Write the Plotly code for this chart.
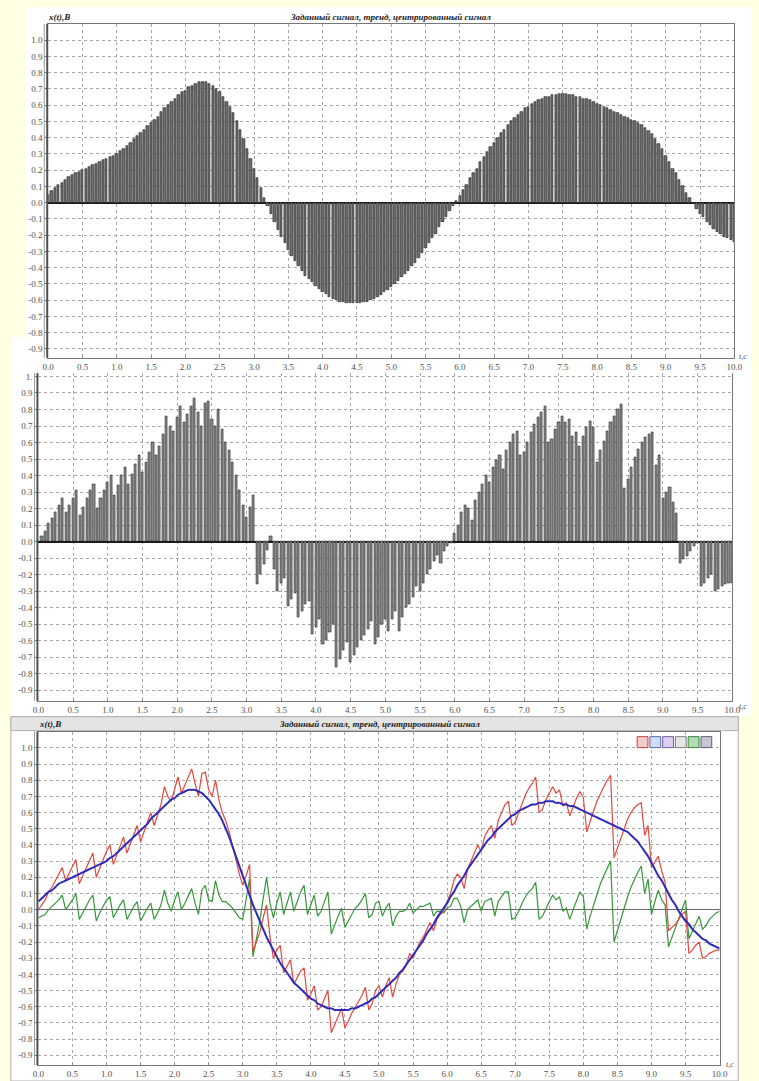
import plotly.graph_objects as go

W, H = 759, 1081

# ---------------- data ----------------
t = [round(i * 0.05, 2) for i in range(201)]

trend = [
    0.05, 0.07, 0.09, 0.11, 0.12, 0.14, 0.16, 0.17, 0.18, 0.19,
    0.20, 0.21, 0.22, 0.23, 0.24, 0.25, 0.26, 0.27, 0.28, 0.29,
    0.30, 0.32, 0.33, 0.35, 0.37, 0.39, 0.41, 0.43, 0.45, 0.47,
    0.49, 0.51, 0.53, 0.56, 0.58, 0.60, 0.62, 0.64, 0.66, 0.68,
    0.69, 0.71, 0.72, 0.73, 0.74, 0.74, 0.74, 0.73, 0.72, 0.70,
    0.68, 0.65, 0.62, 0.59, 0.55, 0.50, 0.45, 0.39, 0.33, 0.27,
    0.21, 0.15, 0.09, 0.03, -0.02, -0.07, -0.12, -0.17, -0.21, -0.25,
    -0.29, -0.33, -0.36, -0.39, -0.42, -0.45, -0.47, -0.49, -0.51, -0.53,
    -0.55, -0.56, -0.58, -0.59, -0.60, -0.61, -0.61, -0.62, -0.62, -0.62,
    -0.62, -0.62, -0.61, -0.61, -0.60, -0.59, -0.58, -0.57, -0.55, -0.54,
    -0.52, -0.50, -0.48, -0.46, -0.44, -0.42, -0.39, -0.37, -0.34, -0.31,
    -0.28, -0.25, -0.22, -0.19, -0.15, -0.12, -0.09, -0.05, -0.02, 0.01,
    0.04, 0.08, 0.11, 0.15, 0.18, 0.21, 0.25, 0.28, 0.31, 0.34,
    0.37, 0.40, 0.43, 0.45, 0.48, 0.50, 0.52, 0.54, 0.56, 0.58,
    0.59, 0.61, 0.62, 0.63, 0.64, 0.65, 0.65, 0.66, 0.66, 0.67,
    0.67, 0.67, 0.66, 0.66, 0.65, 0.65, 0.64, 0.64, 0.63, 0.62,
    0.61, 0.60, 0.59, 0.58, 0.57, 0.56, 0.55, 0.54, 0.53, 0.52,
    0.51, 0.50, 0.49, 0.48, 0.46, 0.44, 0.42, 0.39, 0.36, 0.33,
    0.29, 0.25, 0.21, 0.18, 0.14, 0.10, 0.06, 0.03, -0.01, -0.04,
    -0.07, -0.09, -0.12, -0.14, -0.16, -0.18, -0.19, -0.21, -0.22, -0.23,
    -0.24,
]

signal = [
    0.00, 0.03, 0.06, 0.11, 0.14, 0.18, 0.22, 0.26, 0.18, 0.22,
    0.26, 0.31, 0.16, 0.21, 0.26, 0.31, 0.35, 0.20, 0.26, 0.31,
    0.36, 0.40, 0.28, 0.34, 0.40, 0.45, 0.35, 0.41, 0.47, 0.52,
    0.42, 0.48, 0.54, 0.60, 0.52, 0.58, 0.65, 0.76, 0.70, 0.67,
    0.75, 0.82, 0.72, 0.77, 0.82, 0.87, 0.78, 0.70, 0.84, 0.85,
    0.74, 0.70, 0.80, 0.68, 0.60, 0.55, 0.48, 0.40, 0.31, 0.22,
    0.15, 0.21, 0.28, -0.26, -0.20, -0.14, -0.05, 0.03, -0.17, -0.30,
    -0.25, -0.22, -0.39, -0.35, -0.31, -0.46, -0.42, -0.38, -0.36, -0.56,
    -0.52, -0.47, -0.62, -0.60, -0.55, -0.50, -0.76, -0.71, -0.66, -0.61,
    -0.73, -0.69, -0.64, -0.60, -0.57, -0.53, -0.48, -0.62, -0.58, -0.50,
    -0.47, -0.54, -0.47, -0.42, -0.54, -0.46, -0.40, -0.38, -0.34, -0.27,
    -0.30, -0.25, -0.20, -0.17, -0.12, -0.08, -0.13, -0.06, -0.03, -0.01,
    0.05, 0.10, 0.18, 0.22, 0.20, 0.13, 0.25, 0.30, 0.35, 0.40,
    0.36, 0.45, 0.49, 0.52, 0.44, 0.55, 0.60, 0.65, 0.67, 0.52,
    0.54, 0.60, 0.66, 0.71, 0.75, 0.78, 0.82, 0.60, 0.62, 0.68,
    0.72, 0.76, 0.72, 0.74, 0.64, 0.66, 0.58, 0.64, 0.69, 0.73,
    0.69, 0.48, 0.55, 0.61, 0.67, 0.72, 0.76, 0.80, 0.83, 0.32,
    0.38, 0.45, 0.51, 0.56, 0.60, 0.63, 0.65, 0.66, 0.46, 0.52,
    0.26, 0.30, 0.33, 0.24, 0.17, -0.13, -0.11, -0.09, -0.06, -0.03,
    -0.01, -0.27, -0.25, -0.22, -0.20, -0.30, -0.29, -0.27, -0.26, -0.25,
    -0.25,
]

centered = [s - m for s, m in zip(signal, trend)]

x_ticks = [i * 0.5 for i in range(21)]
x_ticktext = ["%.1f" % v for v in x_ticks]
y_ticks = [round(-0.9 + 0.1 * i, 1) for i in range(20)]
y_ticktext = ["%.1f" % v for v in y_ticks]
y_ticktext2 = y_ticktext[:-1] + ["1."]

TITLE = "Заданный сигнал, тренд, центрированный сигнал"
YLABEL = "x(t),B"
XLABEL = "t,c"

SERIF = "Liberation Serif"


def px(x):
    return x / W


def py(y):
    return 1 - y / H


fig = go.Figure()

fig.add_trace(go.Bar(x=t, y=trend, width=0.034,
                     marker=dict(color="#707070", line=dict(color="#1e1e1e", width=0.6)),
                     xaxis="x", yaxis="y", showlegend=False, hoverinfo="skip"))
fig.add_trace(go.Bar(x=t, y=signal, width=0.03,
                     marker=dict(color="#8a8a8a", line=dict(color="#2a2a2a", width=0.6)),
                     xaxis="x2", yaxis="y2", showlegend=False, hoverinfo="skip"))
fig.add_trace(go.Scatter(x=t, y=centered, mode="lines", line=dict(color="#36963a", width=1.2),
                         xaxis="x3", yaxis="y3", showlegend=False, hoverinfo="skip"))
fig.add_trace(go.Scatter(x=t, y=signal, mode="lines", line=dict(color="#e4463e", width=1.2),
                         xaxis="x3", yaxis="y3", showlegend=False, hoverinfo="skip"))
fig.add_trace(go.Scatter(x=t, y=trend, mode="lines", line=dict(color="#2c2cbc", width=2, shape="spline"),
                         xaxis="x3", yaxis="y3", showlegend=False, hoverinfo="skip"))

panels = [
    # (x0, x1, y_top, y_bottom, ymin, ymax, top_border)
    (43, 742, 22, 356.5, -0.955, 1.10, True),
    (33, 740, 372, 700, -0.963, 1.019, False),
    (33, 727, 731, 1065, -0.96, 1.10, True),
]

tickfont = dict(family=SERIF, size=9, color="#505050")
layout = dict(
    width=W, height=H, autosize=False,
    margin=dict(l=0, r=0, t=0, b=0),
    paper_bgcolor="#FFFFE4", plot_bgcolor="white",
    bargap=0, showlegend=False,
)
for k, (x0, x1, y0, y1, ymin, ymax, topb) in enumerate(panels):
    sfx = "" if k == 0 else str(k + 1)
    layout["xaxis" + sfx] = dict(
        domain=[px(x0), px(x1)], range=[0, 10], anchor="y" + sfx,
        tickvals=x_ticks, ticktext=x_ticktext, tickfont=tickfont,
        ticks="inside", ticklen=2, tickcolor="#888",
        showgrid=True, gridcolor="#a8a8a8", griddash="dot", gridwidth=1,
        showline=True, linecolor="#777", linewidth=1, mirror=topb,
        zeroline=False, fixedrange=True,
    )
    layout["yaxis" + sfx] = dict(
        domain=[py(y1), py(y0)], range=[ymin, ymax], anchor="x" + sfx,
        tickvals=y_ticks, ticktext=(y_ticktext2 if k == 1 else y_ticktext), tickfont=tickfont,
        ticks="outside", ticklen=3, tickcolor="#777",
        showgrid=True, gridcolor="#a8a8a8", griddash="dot", gridwidth=1,
        showline=True, linecolor="#777", linewidth=1, mirror=True,
        zeroline=True, zerolinecolor=("#1a1a1a" if k < 2 else "#6a6a6a"),
        zerolinewidth=(1.5 if k < 2 else 1), fixedrange=True,
    )

shapes = []
# white screenshot backgrounds
shapes.append(dict(type="rect", xref="paper", yref="paper", x0=px(20), x1=px(759), y0=py(372), y1=py(5),
                   fillcolor="white", line=dict(width=0), layer="below"))
shapes.append(dict(type="rect", xref="paper", yref="paper", x0=px(5), x1=px(759), y0=py(716), y1=py(336),
                   fillcolor="white", line=dict(width=0), layer="below"))
shapes.append(dict(type="rect", xref="paper", yref="paper", x0=px(5), x1=px(746), y0=py(1081), y1=py(716),
                   fillcolor="white", line=dict(color="#b0b0b0", width=1), layer="below"))
# header band of bottom panel
shapes.append(dict(type="rect", xref="paper", yref="paper", x0=px(5), x1=px(746), y0=py(730), y1=py(716),
                   fillcolor="#e4e4e4", line=dict(color="#b0b0b0", width=1), layer="below"))
# thick left axis lines (double line)
for k, (x0, x1, y0, y1, ymin, ymax, topb) in enumerate(panels):
    shapes.append(dict(type="line", xref="paper", yref="paper", x0=px(x0 - 1), x1=px(x0 - 1),
                       y0=py(y1), y1=py(y0), line=dict(color="#505050", width=2)))
    shapes.append(dict(type="line", xref="paper", yref="paper", x0=px(x0 - 4), x1=px(x0 - 4),
                       y0=py(y1), y1=py(y0), line=dict(color="#999", width=1)))

# toolbar icons in bottom panel
icon_colors = ["#f2cccc", "#cfdcf2", "#dccff0", "#e6e6e6", "#b4dcb4", "#c6c6d6"]
icon_edges = ["#d04040", "#5070b0", "#7a5aa0", "#808080", "#3a8a3a", "#606070"]
for i, (c, e) in enumerate(zip(icon_colors, icon_edges)):
    xa = 643 + i * 13
    shapes.append(dict(type="rect", xref="paper", yref="paper", x0=px(xa), x1=px(xa + 11),
                       y0=py(747), y1=py(736), fillcolor=c, line=dict(color=e, width=1)))
layout["shapes"] = shapes

ann_font_t = dict(family=SERIF, size=9, color="#222")
xl_font = dict(family=SERIF, size=8, color="#555")
annotations = [
    dict(text="<b><i>" + YLABEL + "</i></b>", x=px(41), y=py(15), xref="paper", yref="paper",
         xanchor="left", yanchor="middle", showarrow=False, font=ann_font_t),
    dict(text="<b><i>" + TITLE + "</i></b>", x=px(392), y=py(15), xref="paper", yref="paper",
         xanchor="center", yanchor="middle", showarrow=False, font=ann_font_t),
    dict(text="<b><i>" + YLABEL + "</i></b>", x=px(32), y=py(723), xref="paper", yref="paper",
         xanchor="left", yanchor="middle", showarrow=False, font=ann_font_t),
    dict(text="<b><i>" + TITLE + "</i></b>", x=px(381), y=py(723), xref="paper", yref="paper",
         xanchor="center", yanchor="middle", showarrow=False, font=ann_font_t),
    dict(text="<i>" + XLABEL + "</i>", x=px(745), y=py(355), xref="paper", yref="paper",
         xanchor="left", yanchor="middle", showarrow=False, font=xl_font),
    dict(text="<i>" + XLABEL + "</i>", x=px(745), y=py(706), xref="paper", yref="paper",
         xanchor="left", yanchor="middle", showarrow=False, font=xl_font),
    dict(text="<i>" + XLABEL + "</i>", x=px(732), y=py(1064), xref="paper", yref="paper",
         xanchor="left", yanchor="middle", showarrow=False, font=xl_font),
]
layout["annotations"] = annotations

fig.update_layout(**layout)
fig.write_html("out.html", config={"displayModeBar": False},
               post_script="document.body.style.margin='0px';document.body.style.overflow='hidden';")
